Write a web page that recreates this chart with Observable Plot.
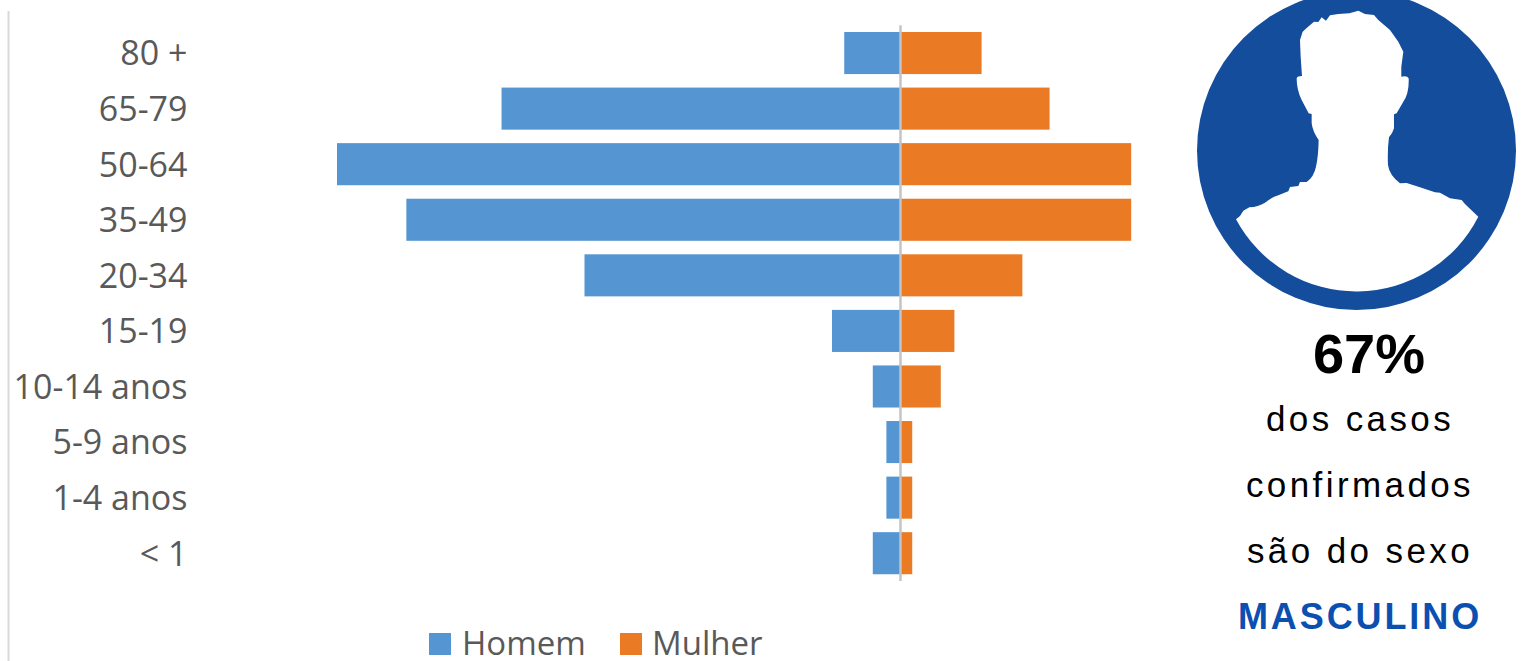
<!DOCTYPE html>
<html>
<head>
<meta charset="utf-8">
<script src="https://cdn.jsdelivr.net/npm/d3@7"></script>
<script src="https://cdn.jsdelivr.net/npm/@observablehq/plot@0.6"></script>
<style>
  html, body { margin: 0; padding: 0; background: #fff; overflow: hidden; }
  #wrap { position: relative; width: 1525px; height: 661px; }
  #wrap > svg { position: absolute; left: 0; top: 0; }
</style>
</head>
<body>
<div id="wrap"></div>
<script>
const ages = ["80 +", "65-79", "50-64", "35-49", "20-34", "15-19", "10-14 anos", "5-9 anos", "1-4 anos", "< 1"];
const homem = [4.1, 29.3, 41.4, 36.3, 23.2, 5, 2, 1, 1, 2];
const mulher = [6, 11, 17, 17, 9, 4, 3, 0.9, 0.9, 0.9];
const sexes = ["Homem", "Mulher"];
const sexColors = ["#5596D2", "#EA7A23"];

const rows = ages.flatMap((age, i) => [
  {age, sex: "Homem", value: -homem[i]},
  {age, sex: "Mulher", value: mulher[i]}
]);

const chart = Plot.plot({
  width: 1525,
  height: 661,
  marginLeft: 187,
  marginRight: 0,
  marginTop: 25.25,
  marginBottom: 80,
  style: {background: "transparent", fontFamily: "'Open Sans', sans-serif"},
  x: {domain: [-52.43, 45.96], axis: null},
  y: {domain: ages, round: false, paddingInner: 0.243, paddingOuter: 0.1215, label: null},
  color: {domain: sexes, range: sexColors},
  marks: [
    Plot.barX(rows, {y: "age", x1: 0, x2: "value", fill: "sex"}),
    Plot.ruleX([0], {stroke: "#C4C4C4", strokeWidth: 2.5}),
    Plot.axisY({anchor: "left", tickSize: 0, tickPadding: 0, label: null, fontSize: 34, dy: 1, fill: "#595959"})
  ]
});
document.getElementById("wrap").appendChild(chart);

// Decoration and side panel, drawn over the chart
const NS = "http://www.w3.org/2000/svg";
const over = document.createElementNS(NS, "svg");
over.setAttribute("width", 1525);
over.setAttribute("height", 661);
over.setAttribute("viewBox", "0 0 1525 661");
over.innerHTML = `
  <line x1="8.5" y1="11" x2="8.5" y2="661" stroke="#D9D9D9" stroke-width="2"/>
  <circle cx="1356.5" cy="150.5" r="159.5" fill="#134D9C"/>
  <g transform="translate(1190,0) scale(0.3333)">
    <path fill="#fff" d="M138,658 L150,648 L160,632 L178,622 Q205,620 225,608 Q245,592 265,586 L295,574 L300,561 L325,558 L330,546 L350,546 Q372,530 378,500 Q385,470 386,420 Q368,395 365,370 L365,342 L356,340 L335,300 Q320,270 320,235 Q322,228 336,228 L332,170 L330,120 L338,95 L350,84 L372,65 L385,66 L395,52 L408,62 L420,46 L445,42 L478,40 L505,32 L525,42 L552,45 L565,60 L600,90 L625,125 L640,155 L634,200 L634,230 Q652,226 656,235 Q658,280 640,305 L620,340 L612,343 L612,385 Q608,400 597,412 Q592,450 594,495 Q598,525 630,550 L650,549 L690,562 L735,577 L750,578 L780,595 L815,600 L825,612 L865,650 A410,410 0 0 1 138,658 Z"/>
  </g>
  <g font-family="'Liberation Sans', Arial, sans-serif" text-anchor="middle">
    <text x="1369" y="373" font-size="56" font-weight="700" fill="#000">67%</text>
    <text x="1360" y="431" font-size="35" letter-spacing="3.4" fill="#000">dos casos</text>
    <text x="1360" y="497" font-size="35" letter-spacing="3.4" fill="#000">confirmados</text>
    <text x="1360" y="563" font-size="35" letter-spacing="3.4" fill="#000">são do sexo</text>
    <text x="1360" y="629" font-size="36" font-weight="700" letter-spacing="2.9" fill="#0B50B0">MASCULINO</text>
  </g>
  <g font-family="'Open Sans', sans-serif" font-size="33" fill="#595959">
    <rect x="429" y="633" width="22" height="22" fill="${sexColors[0]}"/>
    <text x="462" y="655">${sexes[0]}</text>
    <rect x="620" y="633" width="22" height="22" fill="${sexColors[1]}"/>
    <text x="652" y="655">${sexes[1]}</text>
  </g>`;
document.getElementById("wrap").appendChild(over);
</script>
</body>
</html>
